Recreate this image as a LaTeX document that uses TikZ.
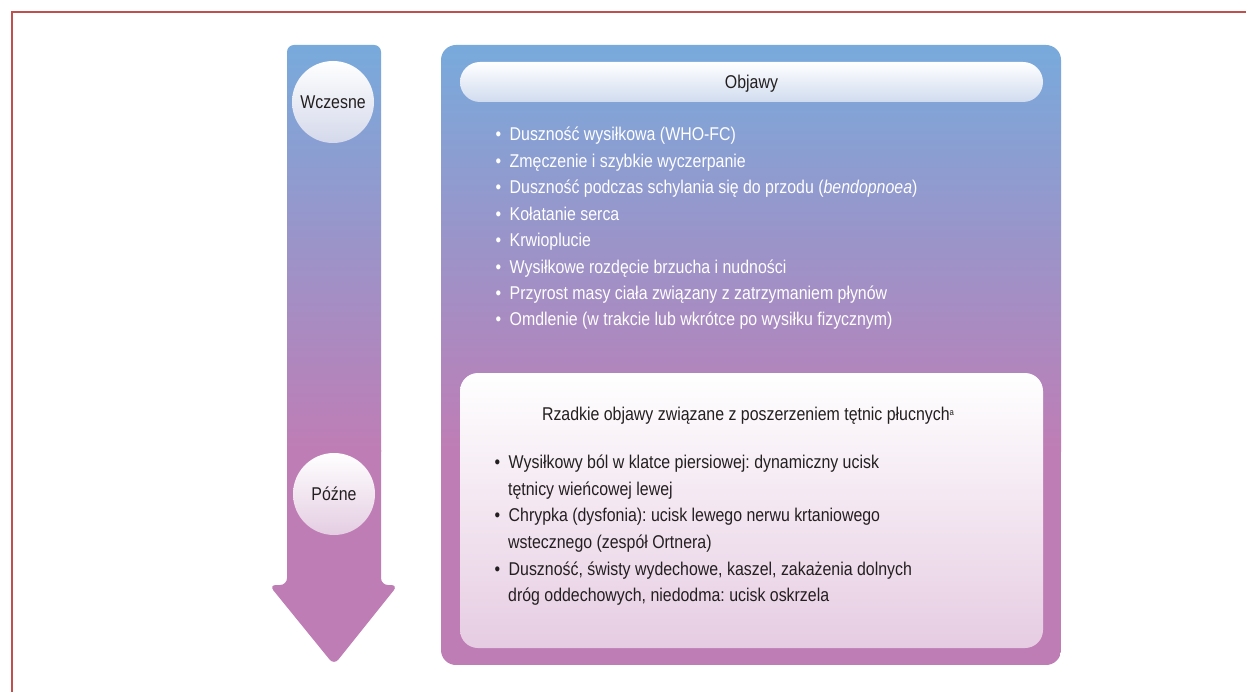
\documentclass[tikz,border=0pt]{standalone}
\usepackage{fontspec}
\setmainfont{Liberation Sans}[FakeStretch=0.86]
\definecolor{cblue}{HTML}{78AADC}
\definecolor{cpurp}{HTML}{BF7DB5}
\definecolor{framered}{HTML}{C0504D}
\definecolor{txt}{HTML}{231F20}
\definecolor{barbot}{HTML}{D0DCEF}
\definecolor{wczbot}{HTML}{D4D9EB}
\definecolor{pozbot}{HTML}{E4CDE2}
\definecolor{lowbot}{HTML}{E6CCE2}
\newcommand\bl{\makebox[14pt][l]{•}}
\begin{document}
\frenchspacing
\begin{tikzpicture}[x=1pt,y=-1pt,
  every node/.style={font=\fontsize{18.5}{22}\selectfont, inner sep=0pt},
  uptext/.style={anchor=base west, text=white},
  lowtext/.style={anchor=base west, text=txt},
  bubble/.style={circle, minimum size=82pt, text=txt, text height=13pt, text depth=0pt},
]
\useasboundingbox (0,0) rectangle (1246,692);
\fill[white] (0,0) rectangle (1246,692);
% frame
\draw[framered, line width=2pt] (12,692) -- (12,12) -- (1246,12);
% arrow
\begin{scope}
\clip[rounded corners=7pt] (334,665) -- (269,585) -- (287,585) -- (287,45) -- (381,45) -- (381,585) -- (398,585) -- cycle;
\shade[top color=cblue, bottom color=cpurp] (260,45) rectangle (400,451);
\fill[cpurp] (260,450) rectangle (400,670);
\end{scope}
% big box
\begin{scope}
\clip[rounded corners=15pt] (441,45) rectangle (1061,665);
\shade[top color=cblue, bottom color=cpurp] (441,45) rectangle (1061,451);
\fill[cpurp] (441,450) rectangle (1061,665);
\end{scope}
% circles
\node[bubble, top color=white, bottom color=wczbot] (wcz) at (333,102) {Wczesne};
\node[bubble, top color=white, bottom color=pozbot] (poz) at (334,494) {Późne};
% Objawy bar
\node[rounded corners=20pt, minimum width=583pt, minimum height=40pt, top color=white, bottom color=barbot, text=txt, text height=13pt, text depth=0pt] (obj) at (751.5,82) {Objawy};
% upper list
\node[uptext] (u1) at (495.5,141) {\bl Duszność wysiłkowa (WHO-FC)};
\node[uptext] (u2) at (495.5,167.4) {\bl Zmęczenie i szybkie wyczerpanie};
\node[uptext] (u3) at (495.5,193.8) {\bl Duszność podczas schylania się do przodu (\textit{bendopnoea})};
\node[uptext] (u4) at (495.5,220.2) {\bl Kołatanie serca};
\node[uptext] (u5) at (495.5,246.6) {\bl Krwioplucie};
\node[uptext] (u6) at (495.5,273) {\bl Wysiłkowe rozdęcie brzucha i nudności};
\node[uptext] (u7) at (495.5,299.4) {\bl Przyrost masy ciała związany z zatrzymaniem płynów};
\node[uptext] (u8) at (495.5,325.8) {\bl Omdlenie (w trakcie lub wkrótce po wysiłku fizycznym)};
% lower box
\node[rounded corners=18pt, minimum width=583pt, minimum height=275pt, top color=white, bottom color=lowbot] (low) at (751.5,510.5) {};
\node[anchor=base, text=txt] (r0) at (748,420) {Rzadkie objawy związane z poszerzeniem tętnic płucnych{\fontsize{9}{9}\selectfont\raisebox{5pt}{a}}};
\node[lowtext] (r1) at (494.5,468.3) {\bl Wysiłkowy ból w klatce piersiowej: dynamiczny ucisk};
\node[lowtext] (r2) at (508,495) {tętnicy wieńcowej lewej};
\node[lowtext] (r3) at (494.5,521.7) {\bl Chrypka (dysfonia): ucisk lewego nerwu krtaniowego};
\node[lowtext] (r4) at (508,548.3) {wstecznego (zespół Ortnera)};
\node[lowtext] (r5) at (494.5,575) {\bl Duszność, świsty wydechowe, kaszel, zakażenia dolnych};
\node[lowtext] (r6) at (508,601.7) {dróg oddechowych, niedodma: ucisk oskrzela};
\end{tikzpicture}
\end{document}
